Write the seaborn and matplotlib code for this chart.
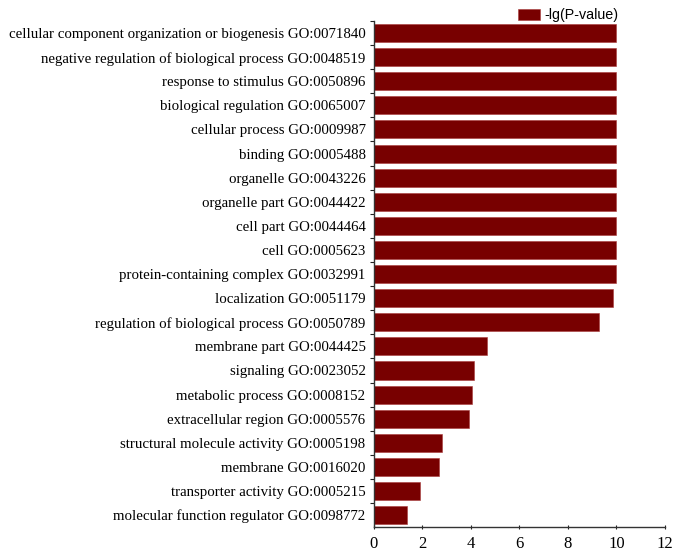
import matplotlib
matplotlib.use("Agg")
import matplotlib.pyplot as plt
import numpy as np
import pandas as pd
import seaborn as sns

# GO terms, top to bottom
TERMS = [
    "cellular component organization or biogenesis GO:0071840",
    "negative regulation of biological process GO:0048519",
    "response to stimulus GO:0050896",
    "biological regulation GO:0065007",
    "cellular process GO:0009987",
    "binding GO:0005488",
    "organelle GO:0043226",
    "organelle part GO:0044422",
    "cell part GO:0044464",
    "cell GO:0005623",
    "protein-containing complex GO:0032991",
    "localization GO:0051179",
    "regulation of biological process GO:0050789",
    "membrane part GO:0044425",
    "signaling GO:0023052",
    "metabolic process GO:0008152",
    "extracellular region GO:0005576",
    "structural molecule activity GO:0005198",
    "membrane GO:0016020",
    "transporter activity GO:0005215",
    "molecular function regulator GO:0098772",
]
NEG_LOG_P = [10, 10, 10, 10, 10, 10, 10, 10, 10, 10, 10,
             9.87, 9.29, 4.66, 4.14, 4.03, 3.90, 2.82, 2.67, 1.88, 1.37]
X_TICKS = [0, 2, 4, 6, 8, 10, 12]

BAR_COLOR = "#780000"

sns.set_style("ticks")
plt.rcParams["font.family"] = ["Liberation Serif", "DejaVu Serif"]
plt.rcParams["text.color"] = "black"
plt.rcParams["xtick.color"] = "#222222"
plt.rcParams["ytick.color"] = "#222222"
plt.rcParams["xtick.labelcolor"] = "black"
plt.rcParams["ytick.labelcolor"] = "black"

df = pd.DataFrame({"term": TERMS, "value": NEG_LOG_P})

fig = plt.figure(figsize=(6.75, 5.52), dpi=100)
ax = fig.add_axes([0.554, 0.045, 0.431, 0.917])

sns.barplot(data=df, x="value", y="term", orient="h", color=BAR_COLOR,
            saturation=1, width=0.75, edgecolor="#a83a3a", linewidth=0.4,
            label="-lg(P-value)", ax=ax)

ax.set_xlim(0, 12)
ax.set_ylim(20.5, -0.5)
ax.set_xticks(X_TICKS)
ax.set_xticklabels([str(t) for t in X_TICKS], fontsize=12)
# small marks between the categories on the left axis
ax.set_yticks(np.arange(len(TERMS)) - 0.5, minor=True)
ax.tick_params(axis="y", which="major", labelsize=10.7, length=0, pad=6)
ax.tick_params(axis="y", which="minor", length=3, width=0.8)
ax.tick_params(axis="x", length=3, width=0.8, pad=5, direction="inout")
ax.set_xlabel("")
ax.set_ylabel("")
for side in ["left", "bottom"]:
    ax.spines[side].set_linewidth(1.0)
    ax.spines[side].set_color("#333333")
sns.despine(ax=ax)

leg = ax.legend(loc="center left", bbox_to_anchor=(0.768, 0.972),
                bbox_transform=fig.transFigure, frameon=False,
                prop={"family": "Liberation Sans", "size": 10.3},
                handlelength=1.5, handleheight=0.8, handletextpad=0.3,
                borderaxespad=0, borderpad=0)

fig.savefig("out.png", dpi=100)
